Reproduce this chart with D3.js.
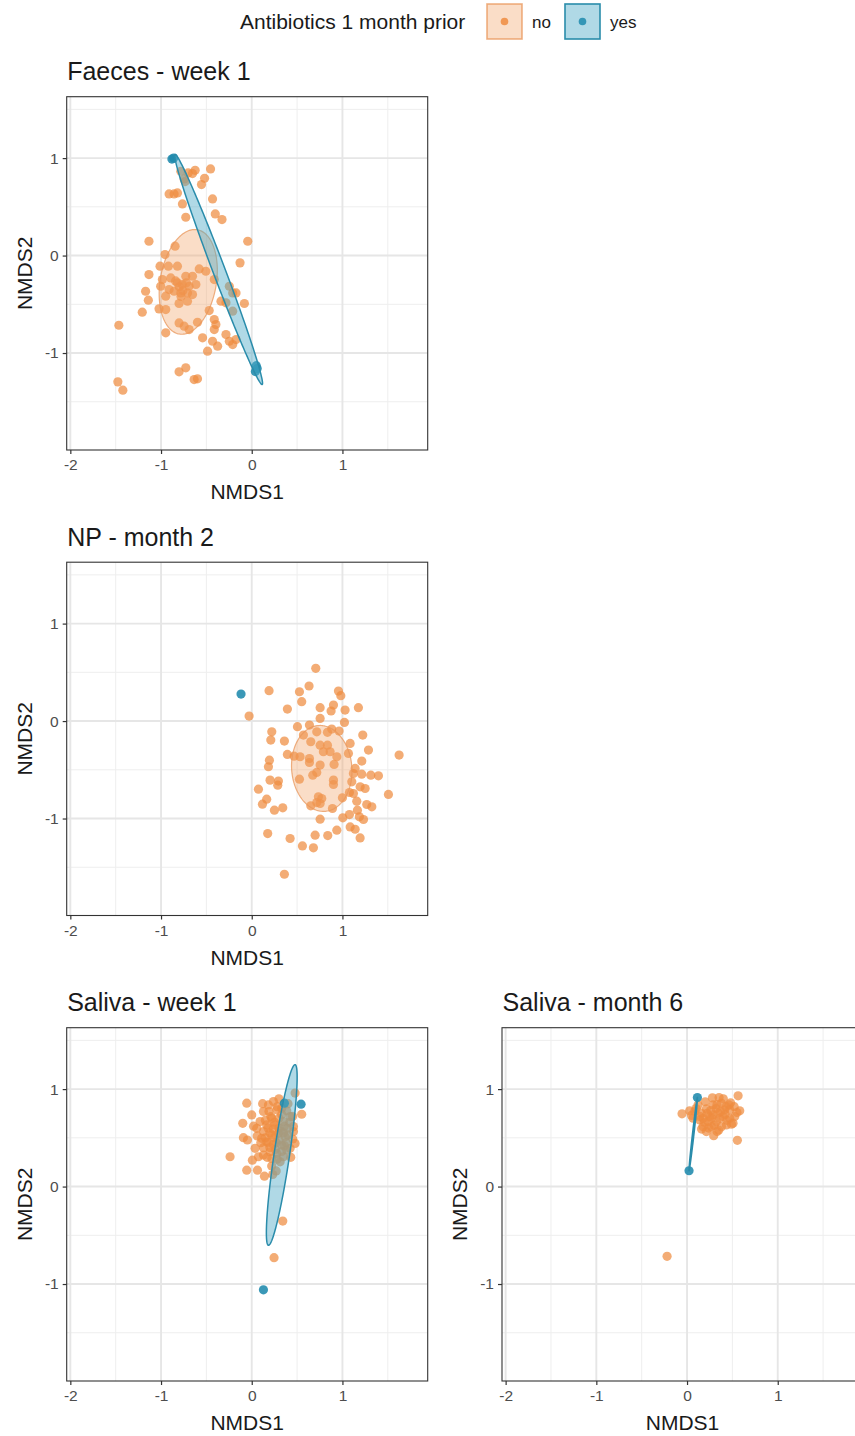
<!DOCTYPE html>
<html>
<head>
<meta charset="utf-8">
<script src="https://cdn.jsdelivr.net/npm/d3@7"></script>
<style>
  html, body { margin: 0; padding: 0; background: #ffffff; }
  svg { display: block; font-family: "Liberation Sans", Arial, sans-serif; }
</style>
</head>
<body>
<svg id="chart" width="855" height="1436"></svg>
<script>
// NMDS ordination coordinates [NMDS1, NMDS2] per sample, by antibiotic exposure.
const faecesW1No = [
  [-0.782,0.865],[-0.701,0.848],[-0.624,0.875],[-0.653,0.841],[-0.734,0.759],[-0.520,0.793],
  [-0.554,0.728],[-0.454,0.889],[-0.745,0.786],[-0.911,0.632],[-0.856,0.632],[-0.819,0.643],
  [-0.764,0.530],[-0.432,0.581],[-0.402,0.427],[-0.328,0.369],[-0.727,0.393],[-1.133,0.147],
  [-0.044,0.147],[-0.845,0.096],[-0.956,0.010],[-0.129,-0.075],[-1.011,-0.109],[-0.919,-0.109],
  [-0.819,-0.109],[-0.579,-0.137],[-0.506,-0.161],[-1.133,-0.195],[-0.985,-0.246],[-0.893,-0.229],
  [-0.727,-0.212],[-0.653,-0.212],[-0.819,-0.280],[-0.764,-0.297],[-0.690,-0.315],[-0.616,-0.297],
  [-1.004,-0.315],[-0.911,-0.349],[-0.856,-0.366],[-0.782,-0.383],[-1.170,-0.366],[-0.948,-0.417],
  [-0.708,-0.383],[-0.653,-0.400],[-0.413,-0.246],[-1.140,-0.458],[-0.801,-0.492],[-0.708,-0.468],
  [-1.022,-0.547],[-0.948,-0.554],[-1.207,-0.581],[-0.469,-0.564],[-0.413,-0.656],[-0.395,-0.708],
  [-0.247,-0.315],[-0.210,-0.383],[-0.173,-0.383],[-0.339,-0.468],[-0.284,-0.485],[-0.081,-0.492],
  [-0.210,-0.571],[-1.465,-0.715],[-0.801,-0.691],[-0.745,-0.725],[-0.690,-0.759],[-0.598,-0.684],
  [-0.948,-0.793],[-0.542,-0.844],[-0.432,-0.879],[-0.376,-0.930],[-0.284,-0.810],[-0.247,-0.879],
  [-0.173,-0.862],[-0.210,-0.913],[-0.487,-0.981],[-0.801,-1.193],[-0.727,-1.152],[-0.635,-1.272],
  [-0.598,-1.265],[-1.476,-1.296],[-1.421,-1.381],[-0.413,-0.759],[-0.800,-0.320],[-0.760,-0.360],
  [-0.720,-0.280],[-0.840,-0.260],[-0.780,-0.420]
];
const faecesW1Yes = [[-0.880,0.990],[-0.860,1.000],[0.050,-1.130],[0.040,-1.190],[0.060,-1.160]];

const npM2No = [
  [0.706,0.541],[0.191,0.312],[0.526,0.301],[0.632,0.360],[0.551,0.199],[0.956,0.308],
  [0.982,0.260],[-0.029,0.051],[0.393,0.123],[0.754,0.137],[0.901,0.164],[0.875,0.103],
  [1.029,0.113],[1.176,0.137],[0.754,0.027],[1.022,-0.014],[0.504,-0.058],[0.636,-0.041],
  [0.717,-0.110],[0.835,-0.116],[0.882,-0.082],[0.963,-0.103],[0.221,-0.110],[0.210,-0.195],
  [0.360,-0.205],[0.570,-0.144],[1.224,-0.144],[0.651,-0.212],[0.754,-0.247],[0.835,-0.247],
  [1.085,-0.229],[1.287,-0.298],[0.393,-0.342],[0.467,-0.360],[0.533,-0.366],[0.636,-0.384],
  [0.636,-0.425],[0.790,-0.315],[0.864,-0.315],[0.938,-0.366],[0.908,-0.445],[0.754,-0.452],
  [1.066,-0.332],[1.213,-0.411],[1.625,-0.349],[0.195,-0.401],[0.184,-0.469],[1.140,-0.486],
  [1.121,-0.538],[1.213,-0.545],[1.313,-0.555],[1.397,-0.562],[0.673,-0.555],[0.717,-0.527],
  [0.202,-0.606],[0.294,-0.616],[0.287,-0.658],[0.526,-0.596],[0.901,-0.606],[0.901,-0.651],
  [1.103,-0.623],[1.195,-0.675],[1.250,-0.692],[0.074,-0.699],[1.507,-0.753],[1.077,-0.733],
  [1.121,-0.743],[1.000,-0.788],[0.735,-0.777],[0.772,-0.795],[0.717,-0.836],[0.651,-0.870],
  [0.754,-0.846],[0.165,-0.801],[0.118,-0.853],[0.250,-0.914],[0.342,-0.890],[0.890,-0.897],
  [1.158,-0.822],[1.268,-0.856],[1.324,-0.880],[1.165,-0.914],[1.077,-0.959],[1.004,-0.993],
  [0.754,-1.007],[1.187,-0.983],[1.232,-1.010],[1.085,-1.086],[1.140,-1.110],[0.938,-1.120],
  [0.176,-1.154],[0.423,-1.205],[0.699,-1.171],[0.838,-1.175],[1.195,-1.199],[0.559,-1.281],
  [0.680,-1.301],[0.360,-1.572]
];
const npM2Yes = [[-0.118,0.277]];

const salivaW1No = [
  [-0.055,0.856],[0.478,0.959],[0.551,0.742],[-0.099,0.649],[0.000,0.735],[-0.092,0.502],
  [-0.048,0.478],[-0.239,0.306],[-0.055,0.168],[0.063,0.168],[0.140,0.107],[0.232,0.124],
  [0.007,0.271],[0.074,0.306],[0.037,0.392],[0.129,0.323],[0.239,0.873],[0.184,0.838],
  [0.129,0.770],[0.276,0.787],[0.331,0.804],[0.386,0.777],[0.423,0.718],[0.210,0.718],
  [0.092,0.667],[0.165,0.632],[0.257,0.632],[0.349,0.667],[0.460,0.615],[0.460,0.564],
  [0.393,0.598],[0.129,0.564],[0.221,0.529],[0.294,0.546],[0.368,0.512],[0.452,0.488],
  [0.478,0.443],[0.423,0.392],[0.165,0.460],[0.239,0.433],[0.331,0.426],[0.386,0.375],
  [0.202,0.357],[0.276,0.340],[0.349,0.306],[0.313,0.254],[0.221,0.289],[0.129,0.399],
  [0.110,0.495],[0.055,0.598],[0.200,0.550],[0.250,0.500],[0.300,0.600],[0.180,0.600],
  [0.270,0.450],[0.220,0.700],[0.300,0.700],[0.350,0.550],[0.150,0.500],[0.200,0.400],
  [0.280,0.820],[0.330,0.740],[0.190,0.770],[0.250,0.660],[0.360,0.620],[0.420,0.660],
  [0.150,0.680],[0.300,0.480],[0.380,0.450],[0.260,0.380],[0.330,0.360],[0.180,0.450],
  [0.100,0.450],[0.400,0.530],[0.450,0.720],[0.240,0.590],[0.310,0.570],[0.280,0.280],
  [0.170,0.300],[0.360,0.420],[0.220,0.210],[0.270,0.160],[0.430,0.300],[0.060,0.520],
  [0.020,0.620],[0.120,0.850],[0.300,0.900],[0.400,0.850],
  [0.342,-0.354],[0.246,-0.730]
];
const salivaW1Yes = [[0.360,0.856],[0.544,0.845],[0.129,-1.059]];

const salivaM6No = [
  [-0.055,0.746],[0.029,0.777],[0.563,0.931],[0.353,0.914],[0.555,0.474],[0.294,0.522],
  [0.331,0.564],[0.581,0.777],[0.463,0.838],[0.415,0.787],[0.287,0.838],[0.213,0.797],
  [0.158,0.753],[0.140,0.684],[0.176,0.615],[0.213,0.564],[0.268,0.615],[0.324,0.667],
  [0.397,0.718],[0.471,0.701],[0.526,0.718],[0.434,0.632],[0.379,0.615],[0.121,0.838],
  [0.250,0.718],[0.342,0.753],[0.176,0.701],[0.066,0.701],[0.085,0.770],[0.507,0.649],
  [0.287,0.736],[0.379,0.856],[0.232,0.667],
  [0.200,0.870],[0.260,0.780],[0.320,0.800],[0.360,0.700],[0.420,0.740],[0.470,0.790],
  [0.520,0.820],[0.550,0.760],[0.440,0.680],[0.300,0.630],[0.240,0.600],[0.190,0.660],
  [0.140,0.720],[0.100,0.800],[0.050,0.730],[0.330,0.840],[0.400,0.900],[0.480,0.860],
  [0.270,0.700],[0.370,0.770],[0.220,0.750],[0.160,0.590],[0.350,0.580],[0.490,0.640],
  [0.280,0.910],[0.430,0.820],
  [-0.220,-0.716]
];
const salivaM6Yes = [[0.114,0.914],[0.022,0.162]];

// Group ellipses: centre, semi-major axis vector (NMDS units), minor/major ratio.
const faecesW1Ellipses = [
  { group: "no",  cx: -0.700, cy: -0.270, ax: 0.100, ay: 0.535, ratio: 0.53 },
  { group: "yes", cx: -0.365, cy: -0.143, ax: 0.480, ay: -1.180, ratio: 0.05 }
];
const npM2Ellipses = [
  { group: "no",  cx: 0.772, cy: -0.486, ax: -0.040, ay: 0.440, ratio: 0.70 }
];
const salivaW1Ellipses = [
  { group: "yes", cx: 0.331, cy: 0.324, ax: 0.147, ay: 0.927, ratio: 0.085 }
];
const salivaM6Ellipses = [
  { group: "yes", cx: 0.068, cy: 0.538, ax: 0.046, ay: 0.376, ratio: 0.02 }
];

const panelTitles = ["Faeces - week 1", "NP - month 2", "Saliva - week 1", "Saliva - month 6"];
const groups = ["no", "yes"];
const legendTitle = "Antibiotics 1 month prior";
const xMajorTicks = [-2, -1, 0, 1];
const xMinorTicks = [-1.5, -0.5, 0.5, 1.5];
const yMajorTicks = [-1, 0, 1];
const yMinorTicks = [-1.5, -0.5, 0.5, 1.5];
const xDomain = [-2.04, 1.94];
const yDomain = [-1.995, 1.63];

const panels = [
  { title: panelTitles[0], no: faecesW1No, yes: faecesW1Yes, ellipses: faecesW1Ellipses, col: 0, row: 0 },
  { title: panelTitles[1], no: npM2No, yes: npM2Yes, ellipses: npM2Ellipses, col: 0, row: 1 },
  { title: panelTitles[2], no: salivaW1No, yes: salivaW1Yes, ellipses: salivaW1Ellipses, col: 0, row: 2 },
  { title: panelTitles[3], no: salivaM6No, yes: salivaM6Yes, ellipses: salivaM6Ellipses, col: 1, row: 2 }
];

const colour = { no: "#EE8C40", yes: "#1F8AAD" };
const ellipseFill = { no: "rgba(242,160,100,0.36)", yes: "rgba(80,170,200,0.45)" };
const ellipseStroke = { no: "rgba(232,150,90,0.75)", yes: "#2A8CAB" };

const svg = d3.select("#chart");
const panelW = 361, panelH = 353.3;
const colX = [66.7, 502];
const rowY = [96.7, 562.2, 1027.7];
const textDark = "#1a1a1a", tickText = "#4d4d4d";

// Legend
const legend = svg.append("g");
legend.append("text").attr("x", 240).attr("y", 29)
  .attr("font-size", 21).attr("fill", textDark).text(legendTitle);
const keyX = { no: 487, yes: 565 };
groups.forEach(g => {
  legend.append("rect").attr("x", keyX[g]).attr("y", 4).attr("width", 35).attr("height", 35)
    .attr("fill", ellipseFill[g]).attr("stroke", ellipseStroke[g]).attr("stroke-width", 1.6);
  legend.append("circle").attr("cx", keyX[g] + 17.5).attr("cy", 21.5).attr("r", 3.8)
    .attr("fill", colour[g]).attr("fill-opacity", 0.85);
  legend.append("text").attr("x", keyX[g] + 45).attr("y", 28)
    .attr("font-size", 17).attr("fill", textDark).text(g);
});

function ellipsePath(e, xs, ys) {
  const cx = xs(e.cx), cy = ys(e.cy);
  const ux = xs(e.cx + e.ax) - cx, uy = ys(e.cy + e.ay) - cy;
  const vx = -uy * e.ratio, vy = ux * e.ratio;
  const pts = d3.range(0, 181).map(i => {
    const t = i / 180 * 2 * Math.PI;
    return [cx + ux * Math.cos(t) + vx * Math.sin(t), cy + uy * Math.cos(t) + vy * Math.sin(t)];
  });
  return d3.line()(pts) + "Z";
}

panels.forEach((p, i) => {
  const x0 = colX[p.col], y0 = rowY[p.row];
  const xs = d3.scaleLinear().domain(xDomain).range([x0, x0 + panelW]);
  const ys = d3.scaleLinear().domain(yDomain).range([y0 + panelH, y0]);
  const g = svg.append("g");

  const clipId = "clip" + i;
  svg.append("clipPath").attr("id", clipId).append("rect")
    .attr("x", x0).attr("y", y0).attr("width", panelW).attr("height", panelH);

  // Title
  g.append("text").attr("x", x0 + 0.5).attr("y", y0 - 16.5)
    .attr("font-size", 25).attr("fill", textDark).text(p.title);

  const plot = g.append("g").attr("clip-path", `url(#${clipId})`);
  plot.append("rect").attr("x", x0).attr("y", y0).attr("width", panelW).attr("height", panelH)
    .attr("fill", "#ffffff");

  // Grid
  plot.selectAll(".xminor").data(xMinorTicks).join("line")
    .attr("x1", d => xs(d)).attr("x2", d => xs(d)).attr("y1", y0).attr("y2", y0 + panelH)
    .attr("stroke", "#eeeeee").attr("stroke-width", 1);
  plot.selectAll(".yminor").data(yMinorTicks).join("line")
    .attr("y1", d => ys(d)).attr("y2", d => ys(d)).attr("x1", x0).attr("x2", x0 + panelW)
    .attr("stroke", "#eeeeee").attr("stroke-width", 1);
  plot.selectAll(".xmajor").data(xMajorTicks).join("line")
    .attr("x1", d => xs(d)).attr("x2", d => xs(d)).attr("y1", y0).attr("y2", y0 + panelH)
    .attr("stroke", "#e6e6e6").attr("stroke-width", 1.9);
  plot.selectAll(".ymajor").data(yMajorTicks).join("line")
    .attr("y1", d => ys(d)).attr("y2", d => ys(d)).attr("x1", x0).attr("x2", x0 + panelW)
    .attr("stroke", "#e6e6e6").attr("stroke-width", 1.9);

  // Points
  groups.forEach(grp => {
    plot.append("g").selectAll("circle").data(p[grp]).join("circle")
      .attr("cx", d => xs(d[0])).attr("cy", d => ys(d[1])).attr("r", 4.6)
      .attr("fill", colour[grp]).attr("fill-opacity", grp === "no" ? 0.72 : 0.88);
  });

  // Ellipses
  plot.append("g").selectAll("path").data(p.ellipses).join("path")
    .attr("d", e => ellipsePath(e, xs, ys))
    .attr("fill", e => ellipseFill[e.group])
    .attr("stroke", e => ellipseStroke[e.group])
    .attr("stroke-width", e => e.group === "yes" ? 1.5 : 1.2);

  // Border
  g.append("rect").attr("x", x0).attr("y", y0).attr("width", panelW).attr("height", panelH)
    .attr("fill", "none").attr("stroke", "#333333").attr("stroke-width", 1.1);

  // Axes (plain hyphen-minus in labels)
  const xAxis = d3.axisBottom(xs).tickValues(xMajorTicks).tickSize(4).tickPadding(5)
    .tickFormat(d => String(d));
  const ax = g.append("g").attr("transform", `translate(0,${y0 + panelH})`).call(xAxis);
  const yAxis = d3.axisLeft(ys).tickValues(yMajorTicks).tickSize(4).tickPadding(4)
    .tickFormat(d => String(d));
  const ay = g.append("g").attr("transform", `translate(${x0},0)`).call(yAxis);
  [ax, ay].forEach(a => {
    a.select(".domain").remove();
    a.selectAll(".tick line").attr("stroke", "#333333").attr("stroke-width", 1.2);
    a.selectAll(".tick text").attr("fill", tickText).attr("font-size", 15.5)
      .attr("font-family", "Liberation Sans, Arial, sans-serif");
  });

  // Axis titles
  g.append("text").attr("x", x0 + panelW / 2).attr("y", y0 + panelH + 49)
    .attr("text-anchor", "middle").attr("font-size", 21).attr("fill", textDark).text("NMDS1");
  g.append("text")
    .attr("transform", `translate(${x0 - 35},${y0 + panelH / 2}) rotate(-90)`)
    .attr("text-anchor", "middle").attr("font-size", 21).attr("fill", textDark).text("NMDS2");
});
</script>
</body>
</html>
